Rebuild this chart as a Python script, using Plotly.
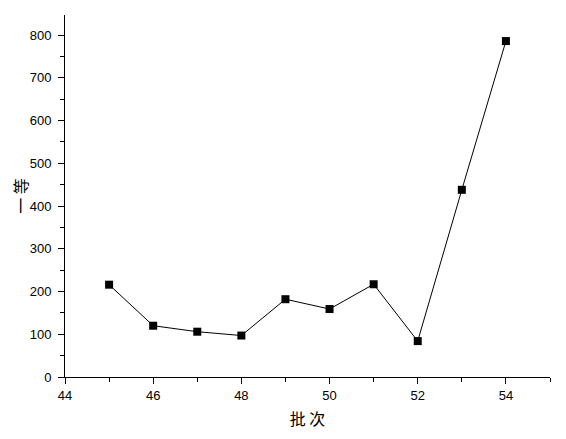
import plotly.graph_objects as go

batches = [45, 46, 47, 48, 49, 50, 51, 52, 53, 54]
first_grade = [216, 120, 106, 97, 182, 159, 217, 84, 438, 786]
x_ticks = [44, 46, 48, 50, 52, 54]
y_ticks = [0, 100, 200, 300, 400, 500, 600, 700, 800]

fig = go.Figure(go.Scatter(
    x=batches, y=first_grade, mode="lines+markers",
    line=dict(color="black", width=1),
    marker=dict(symbol="square", size=8, color="black"),
))

font = dict(family="Arial, Liberation Sans, sans-serif", size=13, color="black")
title_font = dict(family="Noto Sans CJK SC", size=16, color="black")
fig.update_layout(
    width=566, height=439,
    margin=dict(l=57, r=24, t=7, b=70),
    plot_bgcolor="white", paper_bgcolor="white",
    showlegend=False, font=font,
)
fig.update_xaxes(
    range=[44, 55], tickvals=x_ticks, ticks="outside", ticklen=6,
    tickcolor="black", showline=True, linecolor="black", linewidth=1,
    showgrid=False, zeroline=False, automargin=False,
    minor=dict(ticks="outside", ticklen=4, tickcolor="black", dtick=1),
    title=dict(text="批 次", font=title_font, standoff=12),
)
fig.update_yaxes(
    range=[0, 847], tickvals=y_ticks, ticks="outside", ticklen=6,
    tickcolor="black", showline=True, linecolor="black", linewidth=1,
    showgrid=False, zeroline=False, automargin=False, ticklabelstandoff=4,
    minor=dict(ticks="outside", ticklen=4, tickcolor="black", dtick=50),
    title=dict(text="一 等", font=title_font, standoff=12),
)
fig.write_html("out.html")
